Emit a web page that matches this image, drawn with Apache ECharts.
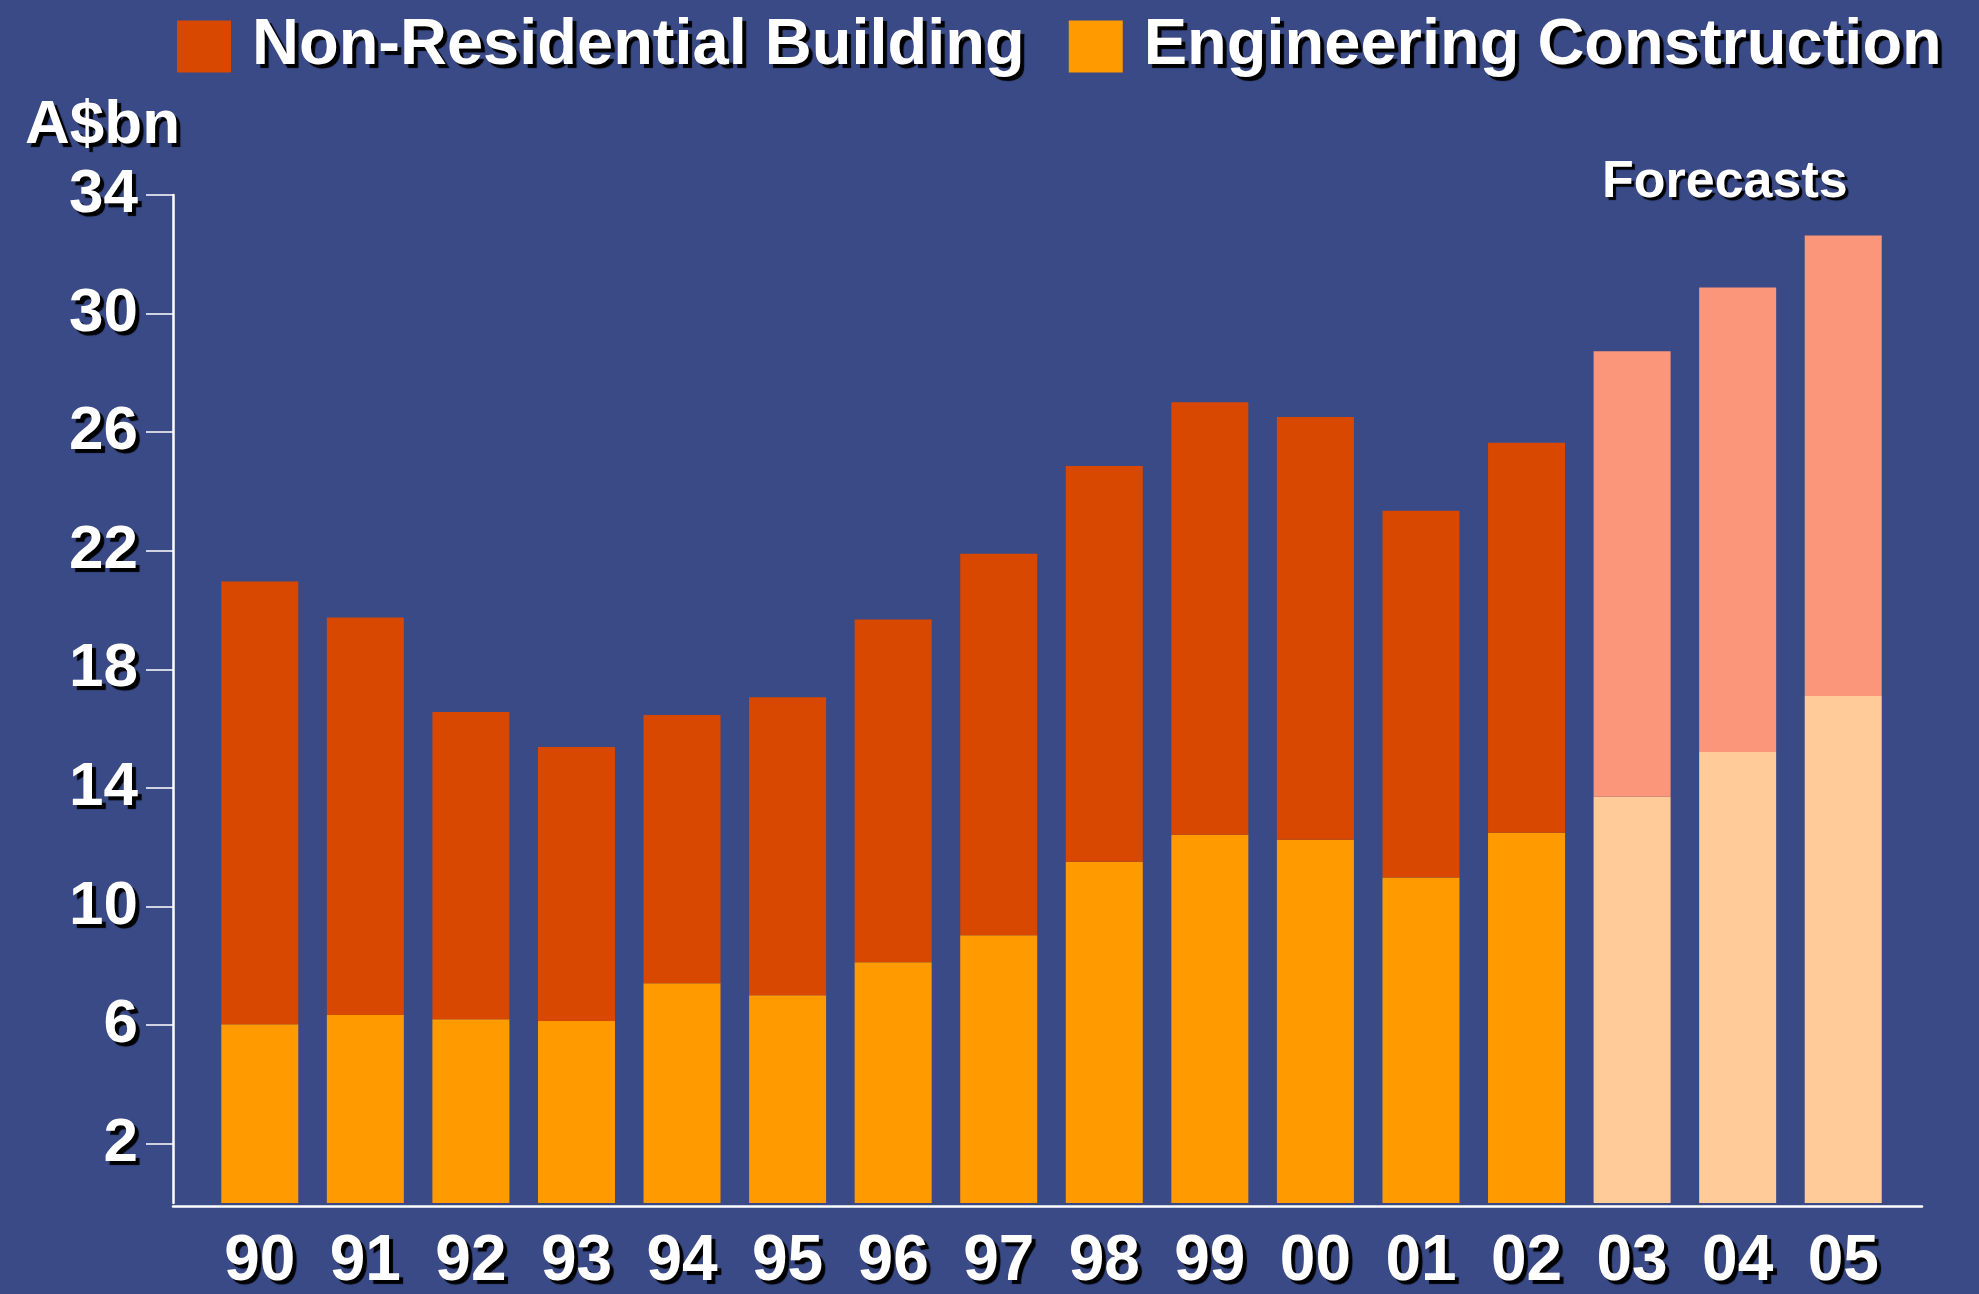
<!DOCTYPE html>
<html>
<head>
<meta charset="utf-8">
<title>Non-Residential Building and Engineering Construction</title>
<script src="https://cdn.jsdelivr.net/npm/echarts@6/dist/echarts.min.js"></script>
<style>
    html, body { margin: 0; padding: 0; background: #394a86; }
    #chart { width: 1979px; height: 1294px; }
</style>
</head>
<body>
<div id="chart"></div>
<script>
    // values, A$bn
    var years = ['90', '91', '92', '93', '94', '95', '96', '97', '98', '99', '00', '01', '02', '03', '04', '05'];
    var engineering = [6.03, 6.34, 6.20, 6.14, 7.41, 7.01, 8.12, 9.03, 11.51, 12.42, 12.25, 10.98, 12.49, 13.70, 15.21, 17.10];
    var nonResidential = [14.93, 13.41, 10.36, 9.24, 9.05, 10.05, 11.56, 12.87, 13.35, 14.59, 14.26, 12.37, 13.15, 15.03, 15.67, 15.53];
    var forecastYears = ['03', '04', '05'];
    var yTicks = [2, 6, 10, 14, 18, 22, 26, 30, 34];

    var font = '"Liberation Sans", Arial, sans-serif';
    var shadow = {
        color: '#fff',
        fontFamily: font,
        fontWeight: 'bold',
        textShadowColor: '#000',
        textShadowBlur: 1,
        textShadowOffsetX: 4,
        textShadowOffsetY: 4
    };
    function txt(extra) {
        var o = {};
        for (var k in shadow) o[k] = shadow[k];
        for (var j in extra) o[j] = extra[j];
        return o;
    }

    function withForecast(values, color) {
        return values.map(function (v, i) {
            if (forecastYears.indexOf(years[i]) >= 0) {
                return { value: v, itemStyle: { color: color } };
            }
            return v;
        });
    }

    var myChart = echarts.init(document.getElementById('chart'));
    var option = {
        backgroundColor: '#394a86',
        animation: false,
        title: [
            { text: 'A$bn', left: 20, top: 90, textStyle: txt({ fontSize: 62 }) },
            { text: 'Forecasts', left: 1597, top: 152, textStyle: txt({ fontSize: 52, textShadowOffsetX: 3, textShadowOffsetY: 3 }) }
        ],
        legend: {
            data: ['Non-Residential Building', 'Engineering Construction'],
            left: 172,
            top: 9,
            icon: 'rect',
            itemWidth: 54,
            itemHeight: 52,
            itemGap: 44,
            textStyle: txt({ fontSize: 65, padding: [0, 0, 0, 16] })
        },
        grid: [
            { left: 207, right: 83, top: 195, bottom: 87.5 },
            { left: 173, right: 57, top: 195, bottom: 87.5 }
        ],
        xAxis: [
            {
                type: 'category',
                gridIndex: 0,
                data: years,
                axisLine: { show: false },
                axisTick: { show: false },
                axisLabel: txt({ fontSize: 64, margin: 27 })
            },
            {
                type: 'value',
                gridIndex: 1,
                min: 0,
                max: 1,
                position: 'bottom',
                axisLine: { show: true, onZero: false, lineStyle: { color: '#fff', width: 2.5 } },
                axisTick: { show: false },
                axisLabel: { show: false },
                splitLine: { show: false }
            }
        ],
        yAxis: [
            {
                type: 'value',
                gridIndex: 0,
                min: 0,
                max: 34,
                offset: 34,
                axisLine: { show: true, lineStyle: { color: '#fff', width: 2.5 } },
                axisTick: { show: true, length: 27, customValues: yTicks, lineStyle: { color: '#fff', width: 1.5 } },
                axisLabel: txt({ fontSize: 62, margin: 35, customValues: yTicks }),
                splitLine: { show: false }
            },
            { type: 'value', gridIndex: 1, min: 0, max: 1, show: false }
        ],
        series: [
            {
                name: 'Engineering Construction',
                type: 'bar',
                stack: 'total',
                barWidth: 77,
                itemStyle: { color: '#ff9a00' },
                data: withForecast(engineering, '#ffcc99')
            },
            {
                name: 'Non-Residential Building',
                type: 'bar',
                stack: 'total',
                barWidth: 77,
                itemStyle: { color: '#d84800' },
                data: withForecast(nonResidential, '#fc967a')
            }
        ]
    };
    myChart.setOption(option);
</script>
</body>
</html>
